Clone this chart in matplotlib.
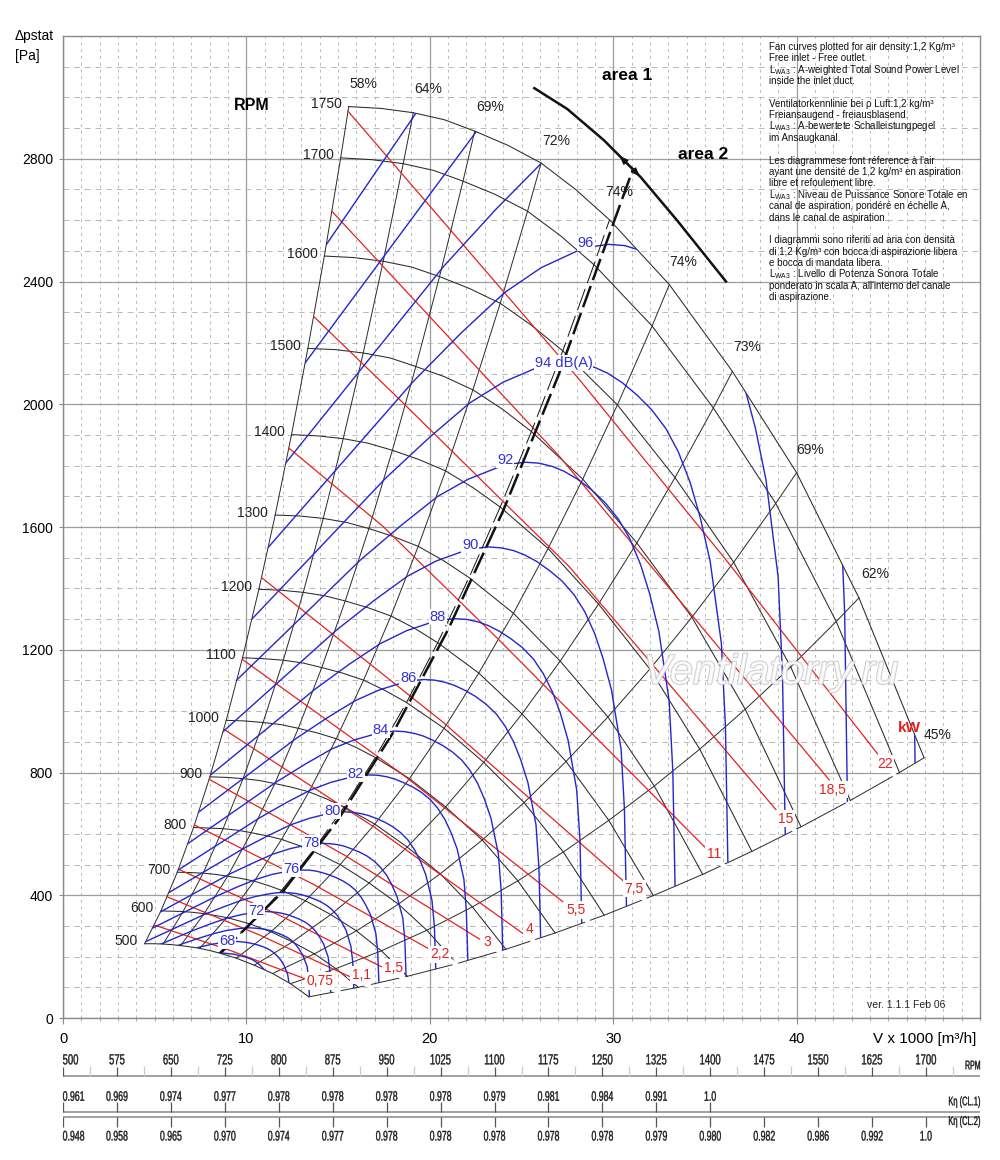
import matplotlib

matplotlib.use("Agg")
import matplotlib.pyplot as plt
import matplotlib.patheffects as pe
from matplotlib.patches import Polygon, PathPatch
from matplotlib.ticker import MultipleLocator
from matplotlib.textpath import TextPath
from matplotlib.font_manager import FontProperties
from matplotlib.transforms import Affine2D

plt.rcParams["font.family"] = ["Liberation Sans", "DejaVu Sans"]
plt.rcParams["mathtext.fontset"] = "custom"
plt.rcParams["mathtext.rm"] = "Liberation Sans"
plt.rcParams["mathtext.it"] = "Liberation Sans:italic"
plt.rcParams["mathtext.bf"] = "Liberation Sans:bold"

BLACK = "#2a2a2a"
RED = "#e3221f"
BLUE = "#2525cc"
BLUE_TEXT = "#3232d6"

# fan curves, one row per speed; the columns are the crossings with the
# efficiency lines (58, -, 64, -, 69, -, 72, -, 74, 74, 73, 69, 62, 45 %)
RPM_LEVELS = [500, 600, 700, 800, 900, 1000, 1100, 1200, 1300, 1400, 1500, 1600, 1700, 1750]
RPM_CURVE_V = [
    [4.45, 4.96, 5.46, 5.94, 6.41, 6.93, 7.45, 7.99, 8.51, 9.45, 10.43, 11.43, 12.40, 13.41],
    [5.34, 5.95, 6.55, 7.13, 7.70, 8.31, 8.94, 9.58, 10.22, 11.33, 12.51, 13.71, 14.88, 16.10],
    [6.23, 6.94, 7.64, 8.32, 8.98, 9.70, 10.43, 11.18, 11.92, 13.22, 14.60, 16.00, 17.36, 18.78],
    [7.12, 7.93, 8.73, 9.51, 10.26, 11.09, 11.92, 12.78, 13.62, 15.11, 16.69, 18.29, 19.84, 21.46],
    [8.01, 8.92, 9.82, 10.70, 11.55, 12.47, 13.41, 14.37, 15.33, 17.00, 18.77, 20.57, 22.32, 24.15],
    [8.90, 9.91, 10.91, 11.89, 12.83, 13.86, 14.90, 15.97, 17.03, 18.89, 20.86, 22.86, 24.80, 26.83],
    [9.79, 10.91, 12.01, 13.07, 14.11, 15.24, 16.39, 17.57, 18.73, 20.78, 22.94, 25.14, 27.28, 29.51],
    [10.68, 11.90, 13.10, 14.26, 15.39, 16.63, 17.88, 19.17, 20.43, 22.67, 25.03, 27.43, 29.76, 32.19],
    [11.57, 12.89, 14.19, 15.45, 16.68, 18.01, 19.37, 20.76, 22.14, 24.56, 27.11, 29.71, 32.24, 34.88],
    [12.46, 13.88, 15.28, 16.64, 17.96, 19.40, 20.86, 22.36, 23.84, 26.45, 29.20, 32.00, 34.72, 37.56],
    [13.35, 14.87, 16.37, 17.83, 19.24, 20.79, 22.35, 23.96, 25.54, 28.34, 31.29, 34.29, 37.20, 40.24],
    [14.25, 15.86, 17.46, 19.02, 20.53, 22.17, 23.84, 25.55, 27.25, 30.23, 33.37, 36.57, 39.68, 42.93],
    [15.14, 16.85, 18.55, 20.21, 21.81, 23.56, 25.33, 27.15, 28.95, 32.12, 35.46, 38.86, 42.16, 45.61],
    [15.58, 17.35, 19.10, 20.80, 22.45, 24.25, 26.07, 27.95, 29.80, 33.06, 36.50, 40.00, 43.40, 46.95],
]
RPM_CURVE_P = [
    [242, 242, 241, 239, 236, 232, 227, 220, 212, 195, 172, 145, 112, 69],
    [349, 348, 347, 344, 340, 334, 327, 317, 306, 281, 248, 209, 161, 100],
    [475, 474, 472, 468, 462, 455, 446, 432, 416, 382, 337, 284, 219, 136],
    [621, 619, 617, 612, 604, 594, 582, 564, 544, 500, 440, 371, 286, 177],
    [786, 784, 780, 774, 764, 752, 737, 714, 688, 632, 557, 470, 362, 224],
    [970, 968, 963, 956, 944, 929, 910, 882, 849, 780, 688, 580, 447, 277],
    [1174, 1171, 1166, 1157, 1142, 1124, 1101, 1067, 1028, 944, 833, 702, 541, 335],
    [1397, 1394, 1387, 1376, 1359, 1337, 1310, 1270, 1223, 1124, 991, 836, 644, 399],
    [1639, 1636, 1628, 1615, 1595, 1569, 1537, 1490, 1435, 1319, 1163, 981, 756, 468],
    [1901, 1897, 1888, 1873, 1850, 1820, 1783, 1728, 1665, 1530, 1349, 1137, 876, 543],
    [2182, 2178, 2167, 2151, 2123, 2090, 2047, 1984, 1911, 1756, 1548, 1306, 1006, 623],
    [2483, 2478, 2466, 2447, 2416, 2377, 2329, 2257, 2174, 1998, 1761, 1485, 1144, 709],
    [2803, 2797, 2784, 2762, 2727, 2684, 2629, 2548, 2455, 2255, 1988, 1677, 1292, 800],
    [2970, 2964, 2950, 2927, 2890, 2844, 2786, 2700, 2601, 2390, 2107, 1777, 1369, 848],
]

EFF_COLUMNS = [0, 2, 4, 6, 9, 10, 11, 12, 13]
EFF_DASHED_COLUMN = 8
EFF_LABELS = ["58%", "64%", "69%", "72%", "74%", "74%", "73%", "69%", "62%", "45%"]
EFF_LABEL_V = [16.4, 19.9, 23.3, 26.9, 30.3, 33.8, 37.3, 40.75, 44.3, 47.7]
EFF_LABEL_P = [3045, 3028, 2970, 2859, 2693, 2465, 2187, 1852, 1447, 923]

# shaft power lines [kW]
KW_LABELS = ["0,75", "1,1", "1,5", "2,2", "3", "4", "5,5", "7,5", "11", "15", "18,5", "22"]
KW_LINE_V = [
    [4.98, 9.13, 13.27],
    [5.68, 10.66, 15.63],
    [6.30, 11.83, 17.36],
    [7.17, 13.58, 19.99],
    [7.97, 15.34, 22.71],
    [8.77, 16.97, 25.06],
    [9.77, 18.51, 27.25],
    [10.83, 20.72, 30.60],
    [12.32, 17.45, 23.69, 35.06],
    [13.67, 18.36, 27.60, 38.96],
    [14.66, 27.07, 41.78],
    [15.54, 28.16, 36.15, 44.41],
]
KW_LINE_P = [
    [303, 220, 126],
    [395, 272, 135],
    [485, 334, 167],
    [629, 438, 224],
    [778, 531, 257],
    [941, 622, 276],
    [1169, 794, 379],
    [1435, 964, 444],
    [1857, 1602, 1237, 553],
    [2286, 2015, 1471, 673],
    [2629, 1830, 776],
    [2955, 2080, 1493, 861],
]
# where each power line runs into the lower border (the border is broken there)
KW_GAP_V = [15.0, 16.65, 18.52, 21.4, 23.77, 25.6, 28.6, 31.69, 35.98, 39.87, 42.78, 45.34]
KW_GAP_P = [87, 107, 132, 177, 218, 253, 315, 387, 498, 612, 705, 791]
KW_LABEL_V = [14.0, 16.25, 18.0, 20.55, 23.15, 25.45, 28.0, 31.15, 35.5, 39.4, 41.96, 44.8]
KW_LABEL_P = [121, 140, 163, 207, 247, 290, 352, 422, 533, 650, 744, 828]

# sound power level curves LwA3 [dB(A)]
SOUND_LEVELS = [66, 68, 70, 72, 74, 76, 78, 80, 82, 84, 86, 88, 90, 92, 94, 96, 98, 100, 102]
SOUND_CURVE_V = [
    [7.54, 8.11, 8.36, 8.61, 8.86, 9.11, 9.33, 9.58, 9.84, 10.09, 10.33, 10.54, 10.75, 10.92, 11.09, 11.28, 11.35],
    [3.41, 6.00, 6.83, 7.57, 8.19, 8.81, 9.08, 9.35, 9.62, 9.90, 10.14, 10.41, 10.68, 10.96, 11.22, 11.45, 11.67, 11.86, 12.04, 12.25, 12.33, 12.38],
    [3.71, 6.52, 7.41, 8.22, 8.90, 9.56, 9.86, 10.16, 10.45, 10.75, 11.01, 11.31, 11.60, 11.90, 12.19, 12.44, 12.68, 12.88, 13.08, 13.31, 13.39, 13.44],
    [4.03, 7.08, 8.05, 8.93, 9.66, 10.39, 10.71, 11.03, 11.36, 11.68, 11.96, 12.28, 12.60, 12.93, 13.24, 13.51, 13.77, 13.99, 14.21, 14.46, 14.55, 14.60],
    [4.37, 7.69, 8.75, 9.70, 10.50, 11.28, 11.63, 11.98, 12.33, 12.68, 12.99, 13.34, 13.69, 14.04, 14.38, 14.67, 14.96, 15.20, 15.44, 15.70, 15.80, 15.86],
    [4.75, 8.36, 9.50, 10.53, 11.40, 12.26, 12.64, 13.02, 13.40, 13.78, 14.11, 14.49, 14.87, 15.25, 15.62, 15.94, 16.25, 16.51, 16.77, 17.06, 17.16, 17.23],
    [5.16, 9.08, 10.32, 11.44, 12.39, 13.31, 13.73, 14.14, 14.55, 14.97, 15.33, 15.74, 16.15, 16.57, 16.97, 17.31, 17.65, 17.93, 18.21, 18.53, 18.64, 18.71],
    [5.61, 9.86, 11.21, 12.43, 13.45, 14.46, 14.91, 15.36, 15.81, 16.26, 16.65, 17.10, 17.55, 17.99, 18.43, 18.81, 19.17, 19.48, 19.78, 20.12, 20.25, 20.33],
    [6.09, 10.71, 12.18, 13.50, 14.61, 15.71, 16.20, 16.68, 17.17, 17.66, 18.08, 18.57, 19.06, 19.55, 20.02, 20.43, 20.82, 21.16, 21.49, 21.86, 21.99, 22.08],
    [6.61, 11.63, 13.23, 14.66, 15.87, 17.06, 17.59, 18.12, 18.65, 19.18, 19.64, 20.17, 20.70, 21.23, 21.75, 22.19, 22.62, 22.98, 23.34, 23.74, 23.89, 23.98],
    [7.18, 12.64, 14.37, 15.93, 17.24, 18.53, 19.11, 19.68, 20.26, 20.83, 21.34, 21.91, 22.49, 23.06, 23.62, 24.10, 24.57, 24.96, 25.35, 25.79, 25.95, 26.05],
    [7.80, 13.73, 15.61, 17.30, 18.73, 20.13, 20.76, 21.38, 22.00, 22.63, 23.18, 23.80, 24.42, 25.05, 25.66, 26.18, 26.69, 27.12, 27.54, 28.01, 28.19, 28.29],
    [8.48, 14.91, 16.95, 18.79, 20.34, 21.87, 22.55, 23.22, 23.90, 24.58, 25.17, 25.85, 26.53, 27.21, 27.87, 28.44, 28.99, 29.45, 29.91, 30.43, 30.61, 30.73],
    [9.21, 16.19, 18.41, 20.41, 22.10, 23.75, 24.49, 25.23, 25.96, 26.70, 27.34, 28.08, 28.82, 29.55, 30.27, 30.89, 31.49, 31.99, 32.49, 33.05, 33.25, 33.38],
    [10.00, 17.59, 20.00, 22.17, 24.00, 25.80, 26.60, 27.40, 28.20, 29.00, 29.70, 30.50, 31.30, 32.10, 32.88, 33.55, 34.20, 34.75, 35.29, 35.90, 36.12, 36.26],
    [10.86, 19.11, 21.72, 24.08, 26.07, 28.02, 28.89, 29.76, 30.63, 31.50, 32.26, 33.13, 34.00, 34.87, 35.71, 36.44, 37.15, 37.75, 38.33, 38.99, 39.23, 39.39],
    [11.80, 20.75, 23.60, 26.16, 28.32, 30.44, 31.38, 32.33, 33.27, 34.21, 35.04, 35.98, 36.93, 37.87, 38.79, 39.58, 40.35, 41.00, 41.64, 42.36, 42.62, 42.78],
    [12.82, 22.54, 25.63, 46.01, 46.29, 46.47],
    [13.92, 24.49, 27.84],
]
SOUND_CURVE_P = [
    [205, 209, 210, 211, 211, 209, 208, 204, 200, 196, 190, 182, 172, 161, 147, 121, 94],
    [149, 205, 221, 233, 241, 247, 248, 249, 249, 247, 245, 241, 237, 231, 224, 215, 203, 190, 173, 142, 111, 56],
    [176, 242, 260, 275, 285, 291, 293, 294, 293, 291, 289, 285, 279, 272, 264, 254, 240, 224, 204, 168, 131, 66],
    [208, 285, 307, 325, 336, 344, 346, 347, 346, 344, 341, 336, 329, 321, 311, 299, 283, 264, 241, 198, 154, 78],
    [245, 337, 362, 383, 396, 405, 408, 409, 408, 406, 402, 396, 388, 379, 367, 353, 334, 312, 285, 233, 182, 92],
    [289, 397, 427, 452, 468, 478, 481, 482, 482, 479, 474, 467, 458, 447, 433, 417, 394, 368, 336, 275, 214, 108],
    [341, 469, 504, 534, 552, 564, 568, 569, 568, 565, 560, 551, 541, 528, 511, 491, 465, 434, 396, 325, 253, 128],
    [403, 553, 595, 630, 651, 666, 670, 672, 670, 666, 660, 650, 638, 623, 603, 580, 548, 512, 467, 383, 299, 151],
    [475, 652, 702, 743, 768, 785, 790, 792, 791, 786, 779, 767, 753, 735, 712, 684, 647, 604, 551, 452, 352, 178],
    [560, 769, 828, 877, 906, 926, 932, 935, 933, 927, 919, 905, 888, 867, 840, 807, 763, 713, 650, 534, 416, 210],
    [661, 908, 977, 1034, 1069, 1093, 1100, 1103, 1101, 1094, 1084, 1068, 1048, 1023, 991, 952, 900, 841, 767, 630, 490, 248],
    [780, 1071, 1153, 1220, 1262, 1290, 1298, 1301, 1299, 1291, 1279, 1260, 1236, 1207, 1169, 1123, 1062, 993, 905, 743, 578, 292],
    [920, 1264, 1360, 1440, 1489, 1522, 1531, 1535, 1532, 1523, 1509, 1487, 1458, 1424, 1379, 1325, 1253, 1171, 1068, 876, 683, 345],
    [1086, 1491, 1604, 1699, 1756, 1795, 1806, 1811, 1808, 1797, 1781, 1755, 1721, 1680, 1627, 1564, 1478, 1382, 1260, 1034, 805, 407],
    [1281, 1759, 1893, 2004, 2072, 2118, 2131, 2137, 2133, 2120, 2101, 2070, 2030, 1982, 1920, 1845, 1744, 1630, 1487, 1220, 950, 480],
    [1511, 2075, 2233, 2364, 2445, 2499, 2514, 2521, 2517, 2501, 2479, 2442, 2395, 2338, 2265, 2177, 2058, 1923, 1754, 1439, 1121, 566],
    [1783, 2449, 2635, 2790, 2884, 2948, 2966, 2975, 2969, 2951, 2925, 2881, 2826, 2759, 2673, 2568, 2428, 2269, 2070, 1698, 1322, 668],
    [2104, 2889, 3109, 2004, 1560, 788],
    [2482, 3408, 3668],
]
SOUND_LABELS = ["68", "72", "76", "78", "80", "82", "84", "86", "88", "90", "92", "94 dB(A)", "96"]
SOUND_LABEL_V = [8.94, 10.55, 12.45, 13.52, 14.69, 15.95, 17.33, 18.82, 20.44, 22.21, 24.12, 27.30, 28.50]
SOUND_LABEL_P = [250, 348, 484, 571, 674, 795, 938, 1107, 1306, 1541, 1818, 2135, 2525]

# border between area 1 and area 2
AREA_LINE_V = [8.6, 12.0, 15.0, 18.0, 21.0, 24.0, 27.0, 31.1]
AREA_LINE_P = [212, 413, 646, 930, 1266, 1653, 2092, 2770]
AREA_ARC_V = [25.7, 27.5, 29.5, 31.5, 33.5, 36.15]
AREA_ARC_P = [3030, 2962, 2860, 2740, 2598, 2400]
AREA_ARROW_V = [30.35, 31.45]
AREA_ARROW_P = [2809, 2743]

# scales under the chart
RPM_SCALE = [500, 575, 650, 725, 800, 875, 950, 1025, 1100, 1175, 1250, 1325, 1400, 1475, 1550, 1625, 1700]
K_CL1 = ["0.961", "0.969", "0.974", "0.977", "0.978", "0.978", "0.978", "0.978", "0.979",
         "0.981", "0.984", "0.991", "1.0"]
K_CL2 = ["0.948", "0.958", "0.965", "0.970", "0.974", "0.977", "0.978", "0.978", "0.978",
         "0.978", "0.978", "0.979", "0.980", "0.982", "0.986", "0.992", "1.0"]

NOTES = [
    "Fan curves plotted for air density:1,2 Kg/m³",
    "Free inlet - Free outlet.",
    "L$_{\\mathrm{WA3}}$ : A-weighted Total Sound Power Level",
    "inside the inlet duct.",
    "",
    "Ventilatorkennlinie bei ρ Luft:1,2 kg/m³",
    "Freiansaugend - freiausblasend.",
    "L$_{\\mathrm{WA3}}$ : A-bewertete Schalleistungpegel",
    "im Ansaugkanal.",
    "",
    "Les diagrammese font réference à l'air",
    "ayant une densité de 1,2 kg/m³ en aspiration",
    "libre et refoulement libre.",
    "L$_{\\mathrm{WA3}}$ : Niveau de Puissance Sonore Totale en",
    "canal de aspiration, pondéré en échelle A,",
    "dans le canal de aspiration.",
    "",
    "I diagrammi sono riferiti ad aria con densità",
    "di 1,2 Kg/m³ con bocca di aspirazione libera",
    "e bocca di mandata libera.",
    "L$_{\\mathrm{WA3}}$ : Livello di Potenza Sonora Totale",
    "ponderato in scala A, all'interno del canale",
    "di aspirazione.",
]


def column(table, c):
    return [row[c] for row in table]


def narrow_text(fig, ax, x, y, s, size, squeeze, ha="center", color="#1a1a1a"):
    """Text squeezed sideways, drawn as a path (no narrow font is installed)."""
    path = TextPath((0, 0), s, size=size, prop=FontProperties(family="Liberation Sans"))
    ext = path.get_extents()
    k = fig.dpi / 72.0
    px, py = ax.transData.transform((x, y))
    if ha == "left":
        x0 = ext.x0
    elif ha == "right":
        x0 = ext.x1
    else:
        x0 = (ext.x0 + ext.x1) / 2
    tr = Affine2D().scale(squeeze * k, k).translate(px - x0 * squeeze * k,
                                                    py - (ext.y0 + ext.y1) / 2 * k)
    patch = PathPatch(path, transform=tr, facecolor=color, edgecolor=color, lw=0.25)
    patch.set_clip_on(False)
    fig.add_artist(patch)


def draw_grid(ax):
    ax.set_xlim(0, 50)
    ax.set_ylim(0, 3200)
    ax.set_xticks([0, 10, 20, 30, 40])
    ax.set_yticks(range(0, 3200, 400))
    ax.xaxis.set_minor_locator(MultipleLocator(1))
    ax.yaxis.set_minor_locator(MultipleLocator(100))
    ax.set_axisbelow(True)
    ax.grid(True, which="major", color="#9d9d9d", lw=0.9)
    ax.xaxis.grid(True, which="minor", color="#b9b9b9", lw=0.7, linestyle=(0, (3, 4)))
    ax.yaxis.grid(True, which="minor", color="#b9b9b9", lw=0.7, linestyle=(0, (6, 5)))
    ax.tick_params(axis="x", which="major", length=4, color="#888888", labelsize=10.5, pad=6)
    ax.tick_params(axis="x", which="minor", length=2.5, color="#999999")
    ax.tick_params(axis="y", which="major", length=3, color="#888888", labelsize=10, pad=4.2)
    ax.tick_params(axis="y", which="minor", length=0)
    for spine in ax.spines.values():
        spine.set_color("#8a8a8a")
        spine.set_linewidth(1.0)


def draw_fan_curves(ax):
    """Speed curves, efficiency lines and their labels. Returns the working region."""
    for n, v, p in zip(RPM_LEVELS, RPM_CURVE_V, RPM_CURVE_P):
        ax.plot(v, p, color=BLACK, lw=0.75, zorder=2)
        ax.text(v[0] - 0.38, p[0] + 8, str(n), ha="right", va="center", fontsize=10, color="#222222")

    for c in EFF_COLUMNS:
        ax.plot(column(RPM_CURVE_V, c), column(RPM_CURVE_P, c), color=BLACK, lw=0.7, zorder=2)
    ax.plot(column(RPM_CURVE_V, EFF_DASHED_COLUMN), column(RPM_CURVE_P, EFF_DASHED_COLUMN),
            color="#111111", lw=0.7, dashes=(23, 6.4), zorder=4)

    for t, v, p in zip(EFF_LABELS, EFF_LABEL_V, EFF_LABEL_P):
        ax.text(v, p, t, ha="center", va="center", fontsize=10, color="#222222")

    top = list(zip(RPM_CURVE_V[-1], RPM_CURVE_P[-1]))
    right = [(v[-1], p[-1]) for v, p in zip(RPM_CURVE_V[::-1], RPM_CURVE_P[::-1])]
    bottom = list(zip(RPM_CURVE_V[0][::-1], RPM_CURVE_P[0][::-1]))
    left = [(v[0], p[0]) for v, p in zip(RPM_CURVE_V, RPM_CURVE_P)]
    region = Polygon(top + right + bottom + left, closed=True, transform=ax.transData,
                     facecolor="none", edgecolor="none")
    return region


def draw_power_lines(ax):
    for v, p, gv, gp in zip(KW_LINE_V, KW_LINE_P, KW_GAP_V, KW_GAP_P):
        ax.plot(v, p, color=RED, lw=0.9, zorder=3)
        # white run-out of the line, it breaks the lower border
        ax.plot([v[-1], gv], [p[-1], gp], color="white", lw=3.2, solid_capstyle="projecting",
                zorder=2.5)
    for t, v, p in zip(KW_LABELS, KW_LABEL_V, KW_LABEL_P):
        ax.text(v, p, t, ha="center", va="center", fontsize=10, color=RED, zorder=6,
                bbox=dict(facecolor="white", edgecolor="none", pad=1.2))
    ax.text(46.13, 946, "kW", ha="center", va="center", fontsize=11, fontweight="bold", color=RED)


def draw_sound_curves(ax, region):
    for v, p in zip(SOUND_CURVE_V, SOUND_CURVE_P):
        line, = ax.plot(v, p, color=BLUE, lw=1.0, zorder=3.5)
        line.set_clip_path(region)
    for t, v, p in zip(SOUND_LABELS, SOUND_LABEL_V, SOUND_LABEL_P):
        ax.text(v, p, t, ha="center", va="center", fontsize=10.5, color=BLUE_TEXT, zorder=6,
                bbox=dict(facecolor="white", edgecolor="none", pad=0.6))


def draw_area_lines(ax):
    ax.plot(AREA_LINE_V, AREA_LINE_P, color="#111111", lw=1.8, dashes=(9, 2.5), zorder=4)
    ax.plot(AREA_ARC_V, AREA_ARC_P, color="#111111", lw=1.8, zorder=4)
    ax.annotate("", xy=(AREA_ARROW_V[0], AREA_ARROW_P[0]), xytext=(AREA_ARROW_V[1], AREA_ARROW_P[1]),
                arrowprops=dict(arrowstyle="<|-|>,head_length=0.5,head_width=0.2", color="#111111",
                                lw=1.0, shrinkA=0, shrinkB=0), zorder=5)
    ax.text(30.77, 3071, "area 1", ha="center", va="center", fontsize=12.5, fontweight="bold")
    ax.text(34.88, 2813, "area 2", ha="center", va="center", fontsize=12.5, fontweight="bold")


def draw_texts(fig, ax):
    ax.text(10.29, 2973, "RPM", ha="center", va="center", fontsize=11.5, fontweight="bold")
    ax.text(0.996, -0.0214, "V x 1000 [m³/h]", transform=ax.transAxes, ha="right", va="center",
            fontsize=11)
    fig.text(0.015, 1 - 36 / 1160, "Δpstat", ha="left", va="center", fontsize=10)
    fig.text(0.015, 1 - 56 / 1160, "[Pa]", ha="left", va="center", fontsize=10)
    ax.text(43.85, 42, "ver. 1.1.1 Feb 06", ha="left", va="center", fontsize=7.5, color="#222222")
    ax.text(38.6, 1125, "Ventilatorry.ru", ha="center", va="center", fontsize=30, style="italic",
            color="white", alpha=0.8, zorder=7,
            path_effects=[pe.withStroke(linewidth=1.4, foreground="#c2c2c2")])
    for i, line in enumerate(NOTES):
        if line:
            ax.annotate(line, xy=(38.5, 3165), xytext=(0, -8.2 * i), textcoords="offset points",
                        ha="left", va="center", fontsize=7, color="#111111", zorder=7)


def draw_scales(fig):
    sax = fig.add_axes([0.063, 0.0086, 0.917, 0.0948])
    sax.set_xlim(500, 1775)
    sax.set_ylim(0, 110)
    sax.axis("off")

    # speed scale
    sax.plot([500, 1775], [74, 74], color="#9a9a9a", lw=1.3)
    sax.vlines(RPM_SCALE, 74, 83.5, color="#555555", lw=0.9)
    sax.vlines([r + 37.5 for r in RPM_SCALE], 74, 84, color="#cccccc", lw=0.9)
    for i, r in enumerate(RPM_SCALE):
        narrow_text(fig, sax, r, 90.7, str(r), 10.5, 0.65, ha="left" if i == 0 else "center")
    narrow_text(fig, sax, 1775, 85, "RPM", 9, 0.56, ha="right")

    # efficiency correction, class 1 and class 2
    sax.plot([500, 1775], [38.3, 38.3], color="#9a9a9a", lw=1.3)
    sax.plot([500, 1775], [33.3, 33.3], color="#9a9a9a", lw=1.3)
    sax.vlines(RPM_SCALE[:len(K_CL1)], 38.3, 47.7, color="#555555", lw=0.9)
    sax.vlines(RPM_SCALE[:len(K_CL2)], 23.3, 33.3, color="#555555", lw=0.9)
    for i, (r, k) in enumerate(zip(RPM_SCALE, K_CL1)):
        narrow_text(fig, sax, r, 54, k, 10, 0.63, ha="left" if i == 0 else "center")
    for i, (r, k) in enumerate(zip(RPM_SCALE, K_CL2)):
        narrow_text(fig, sax, r, 14.3, k, 10, 0.63, ha="left" if i == 0 else "center")
    narrow_text(fig, sax, 1775, 48, "Kη (CL.1)", 9, 0.6, ha="right")
    narrow_text(fig, sax, 1775, 28.3, "Kη (CL.2)", 9, 0.6, ha="right")


fig = plt.figure(figsize=(10, 11.6), dpi=100)
ax = fig.add_axes([0.063, 0.12241, 0.917, 0.84655])
draw_grid(ax)
region = draw_fan_curves(ax)
draw_power_lines(ax)
draw_sound_curves(ax, region)
draw_area_lines(ax)
draw_texts(fig, ax)
draw_scales(fig)
fig.savefig("out.png", dpi=100)
